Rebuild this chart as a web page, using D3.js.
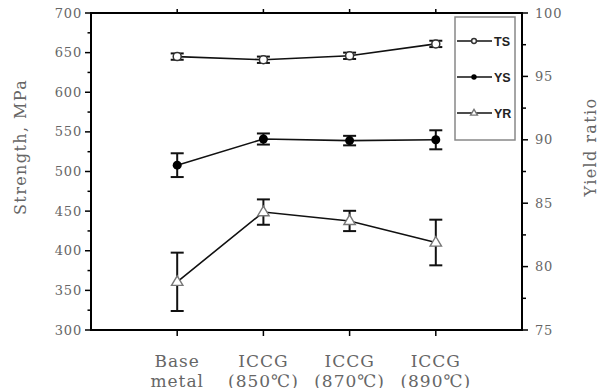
<!DOCTYPE html>
<html><head><meta charset="utf-8">
<script src="https://cdn.jsdelivr.net/npm/d3@7"></script>
<style>body{margin:0;background:#fff}svg{display:block}</style>
</head><body>
<script>
const categories = [["Base","metal"],["ICCG","(850℃)"],["ICCG","(870℃)"],["ICCG","(890℃)"]];
const tsValues = [645, 641, 646, 661];
const tsErrors = [4, 4, 4, 4];
const ysValues = [508, 541, 539, 540];
const ysErrors = [15, 7, 6, 12];
const yrValues = [78.8, 84.3, 83.6, 81.9];
const yrErrors = [2.3, 1.0, 0.8, 1.8];
const leftTicks = [300,350,400,450,500,550,600,650,700];
const rightTicks = [75,80,85,90,95,100];
const legendLabels = ["TS","YS","YR"];

const W=603,H=388;
const svg=d3.select("body").append("svg").attr("width",W).attr("height",H);
const x=d3.scaleLinear().domain([0,5]).range([91,522]);
const yL=d3.scaleLinear().domain([300,700]).range([330,13]);
const yR=d3.scaleLinear().domain([75,100]).range([330,13]);
const textCol="#666";

// left axis
const la=svg.append("g").attr("transform","translate(91,0)")
  .call(d3.axisLeft(yL).tickValues(d3.range(300,701,25)).tickSize(0).tickFormat(""));
la.select(".domain").remove();
svg.selectAll(".ltick").data(d3.range(300,701,25)).join("line")
  .attr("x1",d=>d%50===0?85:87.5).attr("x2",91).attr("y1",d=>yL(d)).attr("y2",d=>yL(d))
  .attr("stroke","#000").attr("stroke-width",1.5);
svg.selectAll(".ltl").data(leftTicks).join("text")
  .attr("x",82).attr("y",d=>yL(d)+4.5).attr("text-anchor","end")
  .attr("font-family","DejaVu Serif").attr("font-size",13).attr("letter-spacing",0.8)
  .attr("fill",textCol).text(d=>d);
// right axis ticks
svg.selectAll(".rtick").data(d3.range(75,100.1,2.5)).join("line")
  .attr("x1",522).attr("x2",d=>d%5===0?528:526).attr("y1",d=>yR(d)).attr("y2",d=>yR(d))
  .attr("stroke","#000").attr("stroke-width",1.5);
svg.selectAll(".rtl").data(rightTicks).join("text")
  .attr("x",535).attr("y",d=>yR(d)+4.5).attr("text-anchor","start")
  .attr("font-family","DejaVu Serif").attr("font-size",13).attr("letter-spacing",0.8)
  .attr("fill",textCol).text(d=>d);
// bottom ticks
svg.selectAll(".btick").data(d3.range(1,5)).join("line")
  .attr("x1",d=>x(d)).attr("x2",d=>x(d)).attr("y1",330).attr("y2",336)
  .attr("stroke","#000").attr("stroke-width",1.5);
svg.selectAll(".ttick").data(d3.range(1,5)).join("line")
  .attr("x1",d=>x(d)).attr("x2",d=>x(d)).attr("y1",13).attr("y2",9)
  .attr("stroke","#000").attr("stroke-width",1.5);
// frame
svg.append("rect").attr("x",91).attr("y",13).attr("width",431).attr("height",317)
  .attr("fill","none").attr("stroke","#000").attr("stroke-width",2);

// category labels
categories.forEach((c,i)=>{
  const t=svg.append("text").attr("x",x(i+1)).attr("text-anchor","middle")
    .attr("font-family","DejaVu Serif").attr("font-size",17).attr("letter-spacing",1)
    .attr("fill",textCol);
  c.forEach((s,j)=>t.append("tspan").attr("x",x(i+1)).attr("y",367+j*20).text(s));
});
// axis titles
svg.append("text").attr("transform","translate(26,147) rotate(-90)").attr("text-anchor","middle")
  .attr("font-family","DejaVu Serif").attr("font-size",16).attr("letter-spacing",1.4)
  .attr("fill",textCol).text("Strength, MPa");
svg.append("text").attr("transform","translate(596,147) rotate(-90)").attr("text-anchor","middle")
  .attr("font-family","DejaVu Serif").attr("font-size",16).attr("letter-spacing",1.4)
  .attr("fill",textCol).text("Yield ratio");

function series(vals,errs,scale,kind){
  const g=svg.append("g");
  const line=d3.line().x((d,i)=>x(i+1)).y(d=>scale(d));
  g.append("path").attr("d",line(vals)).attr("fill","none").attr("stroke","#111").attr("stroke-width",1.6);
  vals.forEach((v,i)=>{
    const cx=x(i+1),top=scale(v+errs[i]),bot=scale(v-errs[i]);
    g.append("line").attr("x1",cx).attr("x2",cx).attr("y1",top).attr("y2",bot).attr("stroke","#111").attr("stroke-width",2);
    [top,bot].forEach(yy=>g.append("line").attr("x1",cx-6.5).attr("x2",cx+6.5).attr("y1",yy).attr("y2",yy).attr("stroke","#111").attr("stroke-width",2));
  });
  vals.forEach((v,i)=>{
    const cx=x(i+1),cy=scale(v);
    marker(g,kind,cx,cy,1);
  });
}
function marker(g,kind,cx,cy,s){
  if(kind==="circleOpen") g.append("circle").attr("cx",cx).attr("cy",cy).attr("r",4*s).attr("fill","#fff").attr("stroke","#333").attr("stroke-width",1.5);
  else if(kind==="circleFill") g.append("circle").attr("cx",cx).attr("cy",cy).attr("r",4.5*s).attr("fill","#000");
  else {
    const r=6*s;
    g.append("path").attr("d",`M${cx},${cy-r}L${cx+r*0.95},${cy+r*0.6}L${cx-r*0.95},${cy+r*0.6}Z`)
      .attr("fill","#fff").attr("stroke","#777").attr("stroke-width",1.4);
  }
}
series(yrValues,yrErrors,yR,"tri");
series(ysValues,ysErrors,yL,"circleFill");
series(tsValues,tsErrors,yL,"circleOpen");

// legend
svg.append("rect").attr("x",455).attr("y",17).attr("width",60).attr("height",123)
  .attr("fill","#fff").attr("stroke","#888").attr("stroke-width",1.5);
const kinds=["circleOpen","circleFill","tri"];
legendLabels.forEach((l,i)=>{
  const yy=41+i*36;
  svg.append("line").attr("x1",457).attr("x2",492).attr("y1",yy).attr("y2",yy).attr("stroke","#111").attr("stroke-width",1.6);
  marker(svg,kinds[i],474,yy,0.6);
  svg.append("text").attr("x",494).attr("y",yy+4.5).attr("font-family","Liberation Sans, Arial")
    .attr("font-weight","bold").attr("font-size",12.5).attr("fill","#222").text(l);
});
</script>
</body></html>
